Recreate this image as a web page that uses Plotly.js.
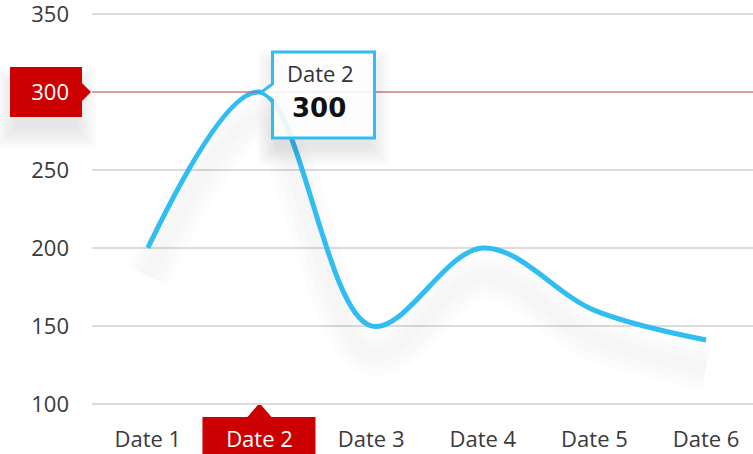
<!DOCTYPE html>
<html>
<head>
<meta charset="utf-8">
<script src="https://cdn.plot.ly/plotly-3.0.1.min.js"></script>
<style>html,body{margin:0;padding:0;background:#fff;}#chart{width:753px;height:454px;}</style>
</head>
<body>
<div id="chart"></div>
<script>
// ---- data ----
const categories = ['Date 1', 'Date 2', 'Date 3', 'Date 4', 'Date 5', 'Date 6'];
const values = [200, 300, 150, 200, 160, 141];
const yTickValues = [100, 150, 200, 250, 300, 350];
const yTickLabels = ['100', '150', '200', '250', '300', '350'];
const highlightIndex = 1;           // Date 2
const highlightValue = 300;

// ---- style ----
const lineColor = '#30bdf1';
const red = '#cc0000';
const font = "'Open Sans', 'Noto Sans', sans-serif";
const shadowShift = 18;

const xTickText = categories.map((c, i) => i === highlightIndex ? '<span style="color:#ffffff">' + c + '</span>' : c);
const yTickText = yTickLabels.map((t, i) => yTickValues[i] === highlightValue ? '<span style="color:#ffffff">' + t + '</span>' : t);

const shadowY = values.map(v => v - shadowShift);
const traces = [
  { x: categories, y: shadowY, mode: 'lines', line: { shape: 'spline', smoothing: 1, color: 'rgba(0,0,0,0.011)', width: 44 }, hoverinfo: 'skip' },
  { x: categories, y: shadowY, mode: 'lines', line: { shape: 'spline', smoothing: 1, color: 'rgba(0,0,0,0.013)', width: 30 }, hoverinfo: 'skip' },
  { x: categories, y: shadowY, mode: 'lines', line: { shape: 'spline', smoothing: 1, color: 'rgba(0,0,0,0.013)', width: 16 }, hoverinfo: 'skip' },
  { x: categories, y: values, mode: 'lines', line: { shape: 'spline', smoothing: 1, color: lineColor, width: 5 } }
];

function shadowRects(xref, xa, yref, ya, x0, x1, y0, y1, layer, dy, n, step, a) {
  const out = [];
  for (let k = 1; k <= n; k++) {
    const g = k * step;
    out.push({ type: 'rect', layer: layer, xref: xref, yref: yref, xsizemode: 'pixel', ysizemode: 'pixel',
      xanchor: xa, yanchor: ya, x0: x0 - g, x1: x1 + g, y0: y0 - g - dy, y1: y1 + g - dy,
      fillcolor: 'rgba(0,0,0,' + a + ')', line: { width: 0 } });
  }
  return out;
}

const shapes = [].concat(
  // y-axis label shadow + box
  shadowRects('paper', 0, 'y', highlightValue, -76, -16, -22, 18, 'below', 14, 8, 2.5, 0.010),
  [{ type: 'path', layer: 'below', xref: 'paper', yref: 'y', xsizemode: 'pixel', ysizemode: 'pixel',
     xanchor: 0, yanchor: highlightValue,
     path: 'M -82,25 L -10,25 L -10,9 L -1,0 L -10,-9 L -10,-25 L -82,-25 Z',
     fillcolor: red, line: { width: 0 } }],
  // x-axis label shadow + box
  shadowRects('x', highlightIndex, 'paper', 0, -52, 50, -70, -16, 'below', 6, 5, 2.5, 0.008),
  [{ type: 'path', layer: 'below', xref: 'x', yref: 'paper', xsizemode: 'pixel', ysizemode: 'pixel',
     xanchor: highlightIndex, yanchor: 0,
     path: 'M -57,-12 L -12,-12 L 0,2 L 12,-12 L 56,-12 L 56,-70 L -57,-70 Z',
     fillcolor: red, line: { width: 0 } }],
  // crosshair line
  [{ type: 'line', layer: 'above', xref: 'paper', yref: 'y', x0: 0, x1: 1, y0: highlightValue, y1: highlightValue,
     line: { color: 'rgba(215,70,70,0.85)', width: 1 } }],
  // tooltip shadow + box
  shadowRects('x', highlightIndex, 'y', highlightValue, 18, 110, -42, 34, 'above', 12, 8, 2.5, 0.012),
  [{ type: 'path', layer: 'above', xref: 'x', yref: 'y', xsizemode: 'pixel', ysizemode: 'pixel',
     xanchor: highlightIndex, yanchor: highlightValue,
     path: 'M 13,40 L 115,40 L 115,-46 L 13,-46 L 13,-8 L 2,0 L 13,8 Z',
     fillcolor: 'rgba(255,255,255,0.9)', line: { color: lineColor, width: 3 } }]
);

const annotations = [
  { xref: 'x', yref: 'y', x: highlightIndex, y: highlightValue, xshift: 61, yshift: 19, showarrow: false,
    text: categories[highlightIndex], font: { family: font, size: 22, color: '#333' }, xanchor: 'center', yanchor: 'middle' },
  { xref: 'x', yref: 'y', x: highlightIndex, y: highlightValue, xshift: 60, yshift: -16, showarrow: false,
    text: '<b>' + highlightValue + '</b>', font: { family: "'DejaVu Sans', sans-serif", size: 26, color: '#111' }, xanchor: 'center', yanchor: 'middle' }
];

const layout = {
  width: 753, height: 454,
  margin: { l: 92, r: 0, t: 12, b: 49 },
  paper_bgcolor: '#ffffff', plot_bgcolor: 'rgba(0,0,0,0)',
  showlegend: false,
  hovermode: false,
  font: { family: font, size: 22, color: '#3a3a3a' },
  xaxis: {
    type: 'category', range: [-0.5, 5.42],
    tickmode: 'array', tickvals: categories, ticktext: xTickText,
    showgrid: false, zeroline: false, showline: false, ticks: '',
    ticklabelstandoff: 19, ticklabeloverflow: 'allow',
    tickfont: { family: font, size: 22, color: '#3a3a3a' }
  },
  yaxis: {
    range: [99.3, 351.3],
    tickmode: 'array', tickvals: yTickValues, ticktext: yTickText,
    showgrid: true, gridcolor: '#dcdcdc', gridwidth: 1.5,
    zeroline: false, showline: false, ticks: '',
    ticklabelstandoff: 22, ticklabeloverflow: 'allow',
    tickfont: { family: font, size: 22, color: '#3a3a3a' }
  },
  shapes: shapes,
  annotations: annotations
};

Plotly.newPlot('chart', traces, layout, { displayModeBar: false, staticPlot: true });
</script>
</body>
</html>
